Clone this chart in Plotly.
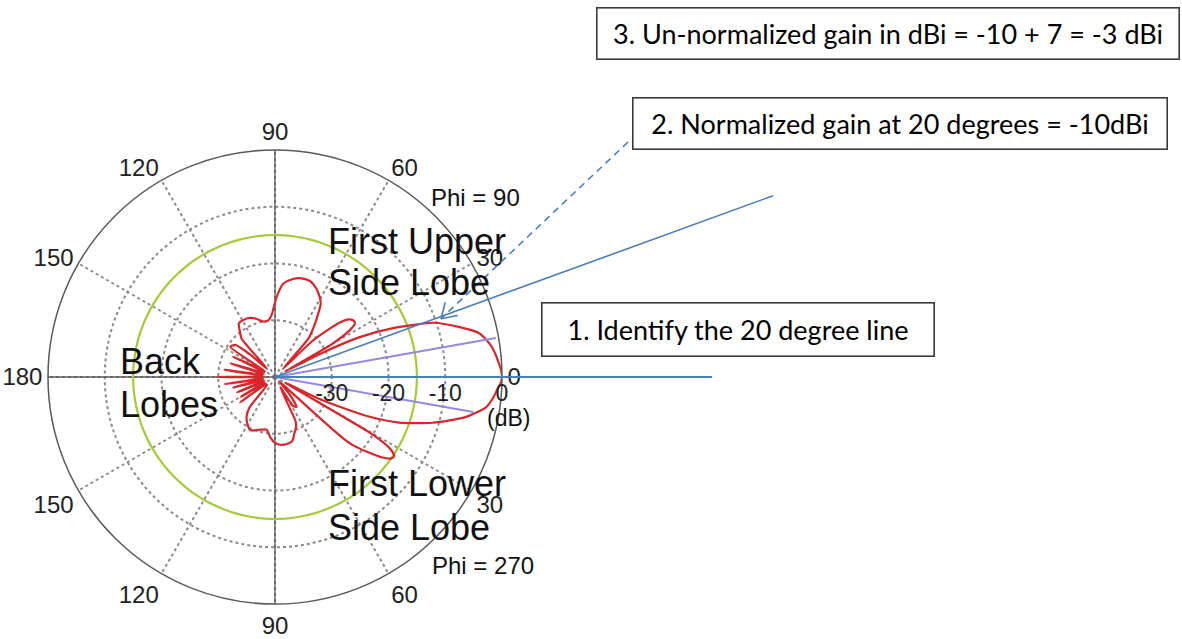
import numpy as np
import plotly.graph_objects as go

# ---------------- data ----------------
# Normalized radiation pattern: angle (deg, 0 = boresight, CCW positive) and gain (dB)
pattern_theta = [-135, -130, -126, -121, -115, -110, -105, -99, -94, -90, -85, -80, -75, -71, -67, -65,
                 -63, -58, -54, -50, -46, -43.5, -42.5, -42, -41, -39, -37, -35, -33.5, -32, -30.5,
                 -29, -26.6, -24.5, -22.8, -20.2, -16.2, -11.8, -8.1, -5.5, -3.3, -1.5, 0, 1.8, 3.6, 5.7, 7.8, 10, 12.1, 15.1,
                 18.9, 22.5, 25.2, 27.2, 28.5, 30, 32, 34, 36, 38, 40, 42, 44, 46, 49, 52, 55, 58,
                 61, 65, 70, 75, 80, 85, 89, 93, 97, 102, 108, 113, 119, 124, 128, 131, 134, 138,
                 141, 146, 150, 154, 158, 163, 167, 172, 176, 180, 184, 188, 191, 194, 198, 202,
                 206, 210, 213, 216, 220, 225]
pattern_db = [-38, -33, -31.5, -30.5, -29.7, -30, -30.4, -30.6, -29.2, -28.4, -28, -28, -28.3, -29.5, -30.5, -31.5,
              -38, -34, -33.5, -36, -39, -38, -29, -24, -21.5, -19, -16.5, -15, -14.8, -16, -20,
              -38, -31.8, -26.8, -21.9, -16.7, -11.1, -5.6, -2.4, -1.4, -0.8, -0.2, 0, -0.15, -0.5, -0.9, -1.4, -2.2, -3.2, -6.3,
              -10.5, -17.5, -23.5, -31, -38, -28.5, -24.5, -23, -23, -23.5, -25, -28, -31, -38, -31, -29, -27, -24.8,
              -23.8, -22.8, -22, -22, -22.5, -23.5, -26, -29, -30, -30, -29.2, -28.7, -28.5, -28.6, -30, -31, -38, -34,
              -31, -30.5, -38, -31.8, -38, -31.8, -38, -31, -38, -29.8, -38, -31, -38, -32.4, -38, -32.8,
              -38, -33, -38, -32.4, -38, -38]

# half-power beam edge markers (purple lines)
beam_edge_theta = [10, -10]
beam_edge_db = [-0.5, -4.5]

# side-lobe reference level (green circle)
side_lobe_level_db = -15

# highlighted reading
highlight_angle = 20
highlight_gain = -10

r_min, r_max = -40, 0
radial_ticks = [-30, -20, -10, 0]
radial_labels = ["-30", "-20", "-10", "0"]
angle_ticks = [0, 30, 60, 90, 120, 150, 180, 210, 240, 270, 300, 330]
angle_labels = ["0", "30", "60", "90", "120", "150", "180", "150", "120", "90", "60", "30"]

# ---------------- layout geometry (pixels) ----------------
W, H = 1182, 639
CX, CY, RAD = 275, 377, 227
BLUE = "#4a7ebb"


def pp(x, y):
    return x / W, 1 - y / H


def polar_px(theta_deg, db):
    frac = (db - r_min) / (r_max - r_min)
    t = np.radians(theta_deg)
    return CX + frac * RAD * np.cos(t), CY - frac * RAD * np.sin(t)


fig = go.Figure()

# solid principal axes
for th in ([0, 180], [90, 270]):
    fig.add_trace(go.Scatterpolar(theta=th, r=[r_max, r_max], mode="lines",
                                  line=dict(color="#5a5a5a", width=1.3), hoverinfo="skip"))

# green side-lobe level circle
circ_theta = list(range(0, 361, 2))
fig.add_trace(go.Scatterpolar(theta=circ_theta, r=[side_lobe_level_db] * len(circ_theta), mode="lines",
                              line=dict(color="#a6c93a", width=2.2), hoverinfo="skip"))

# pattern
fig.add_trace(go.Scatterpolar(theta=pattern_theta, r=pattern_db, mode="lines",
                              line=dict(color="#d9262b", width=2.2, shape="spline", smoothing=0.6),
                              hoverinfo="skip"))

# beam edge lines
for th, db in zip(beam_edge_theta, beam_edge_db):
    fig.add_trace(go.Scatterpolar(theta=[th, th], r=[r_min, db], mode="lines",
                                  line=dict(color="#958ae2", width=2), hoverinfo="skip"))

x0d, x1d = (CX - RAD) / W, (CX + RAD) / W
y0d, y1d = 1 - (CY + RAD) / H, 1 - (CY - RAD) / H

tickfont = dict(family="Liberation Sans", size=24, color="#222")
fig.update_layout(
    width=W, height=H, margin=dict(l=0, r=0, t=0, b=0),
    paper_bgcolor="white", showlegend=False,
    polar=dict(
        domain=dict(x=[x0d, x1d], y=[y0d, y1d]),
        bgcolor="white",
        radialaxis=dict(range=[r_min, r_max], tickvals=radial_ticks, ticktext=radial_labels,
                        angle=0, side="clockwise", showline=False, ticks="",
                        gridcolor="#8a8a8a", griddash="dot", gridwidth=1.6,
                        tickfont=dict(family="Liberation Sans", size=23, color="#222"), tickangle=0),
        angularaxis=dict(rotation=0, direction="counterclockwise", tickvals=angle_ticks,
                         ticktext=angle_labels, ticks="", showline=True, linecolor="#5a5a5a",
                         linewidth=1.5, gridcolor="#8a8a8a", griddash="dot", gridwidth=1.6,
                         tickfont=tickfont),
    ),
)

# ---------------- overlay lines ----------------
shapes = []
cxp, cyp = pp(CX, CY)
# horizontal boresight line
hx = CX + 1.925 * RAD
shapes.append(dict(type="line", xref="paper", yref="paper", x0=cxp, y0=cyp, x1=pp(hx, CY)[0], y1=cyp,
                   line=dict(color=BLUE, width=2)))
# 20 degree line
ex = CX + 2.335 * RAD * np.cos(np.radians(highlight_angle))
ey = CY - 2.335 * RAD * np.sin(np.radians(highlight_angle))
shapes.append(dict(type="line", xref="paper", yref="paper", x0=cxp, y0=cyp, x1=pp(ex, ey)[0], y1=pp(ex, ey)[1],
                   line=dict(color=BLUE, width=1.6)))
# dashed arrow from box 2 to the reading
tipx, tipy = polar_px(highlight_angle, highlight_gain)
tipx += 6
tailx, taily = 628, 142
shapes.append(dict(type="line", xref="paper", yref="paper", x0=pp(tailx, taily)[0], y0=pp(tailx, taily)[1],
                   x1=pp(tipx, tipy)[0], y1=pp(tipx, tipy)[1], line=dict(color=BLUE, width=1.6, dash="7px,5px")))
back = np.arctan2(taily - tipy, tailx - tipx)
for s in (-1, 1):
    a = back + s * np.radians(32)
    hx2, hy2 = tipx + 17 * np.cos(a), tipy + 17 * np.sin(a)
    shapes.append(dict(type="line", xref="paper", yref="paper", x0=pp(tipx, tipy)[0], y0=pp(tipx, tipy)[1],
                       x1=pp(hx2, hy2)[0], y1=pp(hx2, hy2)[1], line=dict(color=BLUE, width=1.6)))
fig.update_layout(shapes=shapes)

# ---------------- text ----------------
ann = []


def txt(s, x, y, size, xanchor="left", family="Liberation Sans"):
    px_, py_ = pp(x, y)
    ann.append(dict(text=s, x=px_, y=py_, xref="paper", yref="paper", xanchor=xanchor, yanchor="middle",
                    showarrow=False, font=dict(family=family, size=size, color="#111")))


txt("First Upper", 326, 241, 36)
txt("Side Lobe", 326, 283, 36)
txt("First Lower", 326, 483, 36)
txt("Side Lobe", 326, 527, 36)
txt("Back", 118, 361, 36)
txt("Lobes", 118, 404, 36)
txt("Phi = 90", 475, 197, 24, xanchor="center")
txt("Phi = 270", 483, 565, 24, xanchor="center")
txt("(dB)", 508, 418, 23, xanchor="center")


def box(s, x0, y0, x1, y1, size=27):
    bw = 1.6
    ann.append(dict(text=s, x=x0 / W, y=1 - y0 / H, xref="paper", yref="paper", xanchor="left", yanchor="top",
                    showarrow=False, width=x1 - x0 - 2 * bw, height=y1 - y0 - 2 * bw, borderpad=0,
                    bordercolor="#3a3a3a", borderwidth=bw, bgcolor="white", align="center", valign="middle",
                    font=dict(family="Lato", size=size, color="black")))


box("3. Un-normalized gain in dBi = -10 + 7 = -3 dBi", 596, 7, 1180, 60)
box("2. Normalized gain at 20 degrees = -10dBi", 632, 97, 1168, 150)
box("1. Identify the 20 degree line", 541, 302, 935, 357)

fig.update_layout(annotations=ann)
fig.write_html("out.html", config={"displayModeBar": False},
               post_script="document.body.style.margin='0';document.body.style.overflow='hidden';")
